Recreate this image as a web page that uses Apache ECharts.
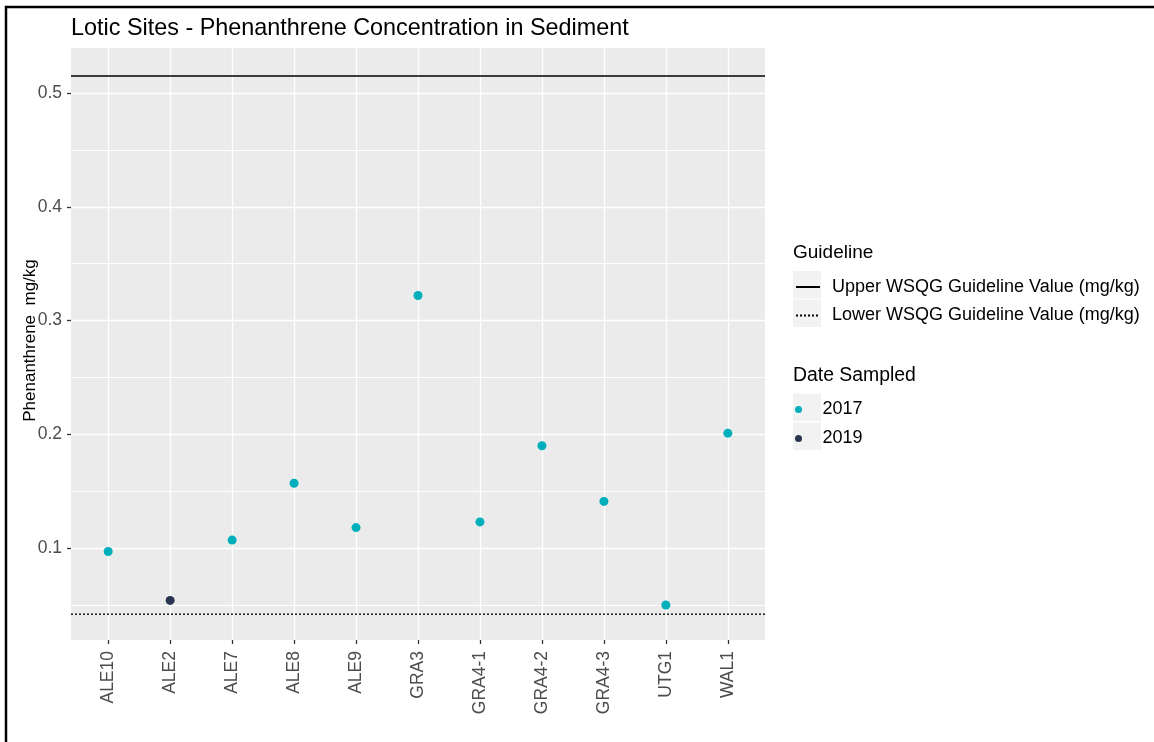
<!DOCTYPE html>
<html><head><meta charset="utf-8">
<script src="https://cdn.jsdelivr.net/npm/echarts@6/dist/echarts.min.js"></script>
<style>html,body{margin:0;padding:0;background:#fff}#chart{width:1154px;height:742px}</style>
</head><body><div id="chart"></div>
<script>
const sites = ['ALE10','ALE2','ALE7','ALE8','ALE9','GRA3','GRA4-1','GRA4-2','GRA4-3','UTG1','WAL1'];
const concentration = [0.097,0.054,0.107,0.157,0.118,0.322,0.123,0.190,0.141,0.050,0.201];
const yearSampled = ['2017','2019','2017','2017','2017','2017','2017','2017','2017','2017','2017'];
const years = ['2017','2019'];
const yearColors = ['#00AFBB','#293352'];
const upperGuideline = 0.515;
const lowerGuideline = 0.0419;
const guidelineNames = ['Upper WSQG Guideline Value (mg/kg)','Lower WSQG Guideline Value (mg/kg)'];
const yMajorTicks = [0.1,0.2,0.3,0.4,0.5];
const yMinorTicks = [0.05,0.15,0.25,0.35,0.45];
const siteIndex = sites.map((s,i)=>i);
const xMin = -0.6, xMax = sites.length - 1 + 0.6;
const yMin = 0.0192, yMax = 0.5396;

const FONT = 'Liberation Sans, Arial, sans-serif';
const chart = echarts.init(document.getElementById('chart'));

const scatterSeries = years.map((yr,k)=>({
  name: yr, type:'scatter', xAxisIndex:0, yAxisIndex:0, symbolSize:9, z:3,
  itemStyle:{color:yearColors[k], opacity:1},
  emphasis:{disabled:true},
  data: sites.map((s,i)=> yearSampled[i]===yr ? [i, concentration[i]] : null).filter(d=>d)
}));

const guideValues = [upperGuideline, lowerGuideline];
const guideDash = ['solid', [2,2]];
const guideSeries = guidelineNames.map((nm,k)=>({
  name:nm, type:'line', symbol:'none', showSymbol:false, xAxisIndex:0, yAxisIndex:0, z:2,
  silent:true, emphasis:{disabled:true},
  itemStyle:{color:'#000'},
  lineStyle:{color:'#000', width:1.3, type:guideDash[k]},
  data:[[xMin, guideValues[k]],[xMax, guideValues[k]]]
}));

const keyBoxes = [[271,27.5],[299.5,27.5],[393.5,27.5],[422.5,27.5]].map(b=>({
  type:'rect', shape:{x:793, y:b[0], width:28, height:b[1]}, style:{fill:'#F2F2F2'}, z:0
}));

chart.setOption({
  animation:false,
  backgroundColor:'#fff',
  title:{text:'Lotic Sites - Phenanthrene Concentration in Sediment', left:71, top:17.5, padding:0,
    textStyle:{fontFamily:FONT, fontSize:23.4, fontWeight:'normal', color:'#000'}},
  grid:{left:71, top:48, right:389, bottom:102, show:true, backgroundColor:'#EBEBEB', borderWidth:0},
  xAxis:{type:'value', min:xMin, max:xMax,
    axisLine:{show:false, onZero:false},
    axisTick:{show:true, customValues:siteIndex, length:4, lineStyle:{color:'#333', width:1.3}},
    axisLabel:{customValues:siteIndex, formatter:v=>sites[Math.round(v)], rotate:90, margin:11,
      fontFamily:FONT, fontSize:17.5, color:'#4D4D4D'},
    splitLine:{show:true, lineStyle:{color:'#fff', width:1.3}}
  },
  yAxis:[
    {type:'value', min:yMin, max:yMax, position:'left',
      name:'Phenanthrene  mg/kg', nameLocation:'middle', nameGap:32, nameRotate:90, nameMoveOverlap:false,
      nameTextStyle:{fontFamily:FONT, fontSize:17, color:'#000', padding:[0,0,0,7]},
      axisLine:{show:false, onZero:false},
      axisTick:{show:true, customValues:yMajorTicks, length:4, lineStyle:{color:'#333', width:1.3}},
      axisLabel:{customValues:yMajorTicks, formatter:v=>v.toFixed(1), margin:9,
        fontFamily:FONT, fontSize:17.5, color:'#4D4D4D'},
      splitLine:{show:true, lineStyle:{color:'#fff', width:1.3}}
    },
    {type:'value', min:yMin, max:yMax, position:'left',
      axisLine:{show:false, onZero:false},
      axisTick:{show:false, customValues:yMinorTicks},
      axisLabel:{show:false, customValues:yMinorTicks},
      splitLine:{show:true, lineStyle:{color:'#fff', width:1}}
    }
  ],
  legend:[
    {data:guidelineNames, orient:'vertical', left:795, top:277, itemWidth:24, itemHeight:14, itemGap:8.5,
      selectedMode:false, padding:0, itemStyle:{color:'#000', opacity:0},
      textStyle:{fontFamily:FONT, fontSize:18, color:'#000', lineHeight:20, padding:[0,0,0,7]}},
    {data:years, orient:'vertical', left:795, top:399.5, itemWidth:24, itemHeight:7, itemGap:9,
      selectedMode:false, padding:0,
      textStyle:{fontFamily:FONT, fontSize:18, color:'#000', lineHeight:20, padding:[0,0,0,7]}}
  ],
  graphic:[
    ...keyBoxes,
    {type:'text', x:793, y:253, z:5, style:{text:'Guideline', fontFamily:FONT, fontSize:19, fill:'#000', verticalAlign:'middle'}},
    {type:'text', x:793, y:376, z:5, style:{text:'Date Sampled', fontFamily:FONT, fontSize:19.4, fill:'#000', verticalAlign:'middle'}},
    {type:'rect', shape:{x:6, y:7, width:1200, height:800}, style:{fill:null, stroke:'#000', lineWidth:2.5}, z:10, silent:true}
  ],
  series:[...guideSeries, ...scatterSeries]
});
</script></body></html>
